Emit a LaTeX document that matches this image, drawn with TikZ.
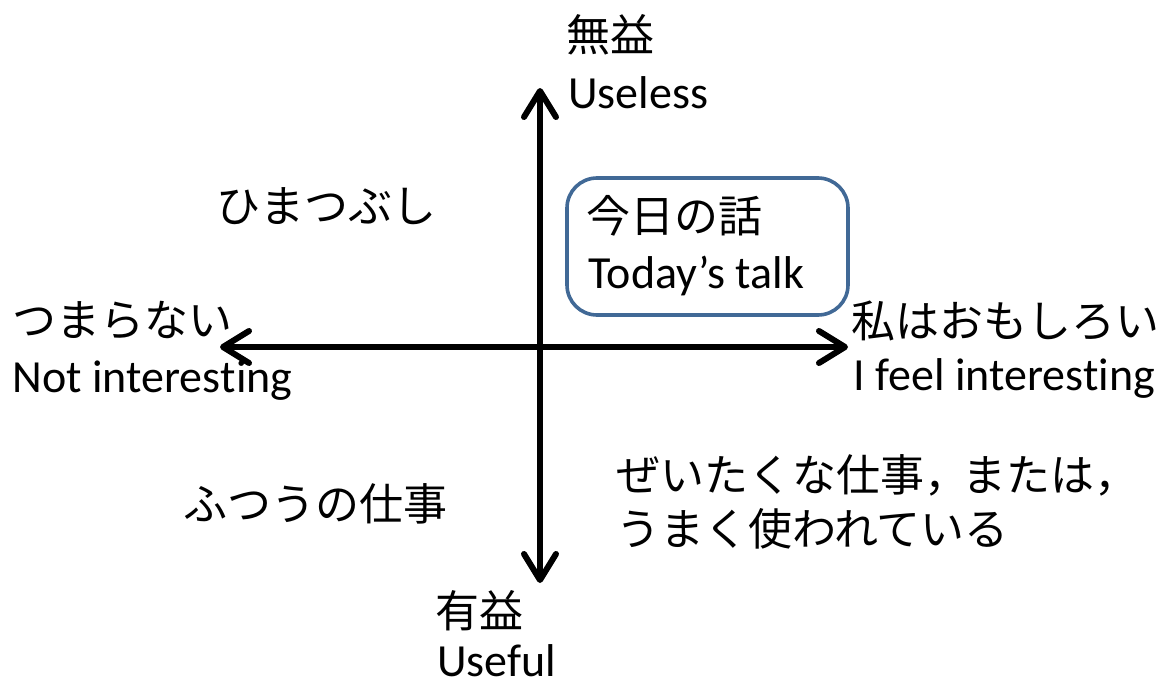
\documentclass[tikz,border=0pt]{standalone}
\usepackage{fontspec}
\setmainfont{Carlito}[Ligatures=NoCommon,Contextuals=NoAlternate]
\newfontfamily\jp{Noto Sans CJK JP}
\usetikzlibrary{arrows.meta}
\definecolor{boxblue}{RGB}{65,105,150}
\begin{document}
\begin{tikzpicture}[x=0.5pt,y=-0.5pt,
  lab/.style={anchor=base west,inner sep=0pt,font=\fontsize{23}{28}\selectfont},
  jlab/.style={lab,font=\fontsize{22}{27}\selectfont\jp},
  axis/.style={line width=3pt,{Straight Barb[length=13pt,width=16pt,line cap=round,round]}-{Straight Barb[length=13pt,width=16pt,line cap=round,round]}}]
\useasboundingbox (0,0) rectangle (1169,685);
\coordinate (top) at (540,88);
\coordinate (bot) at (540,583);
\coordinate (lft) at (220,347);
\coordinate (rgt) at (848,347);
\draw[axis] (bot) -- (top);
\draw[axis] (lft) -- (rgt);
\node[draw=boxblue,line width=1.8pt,rounded corners=15pt,minimum width=140.5pt,minimum height=68.5pt,inner sep=0pt] (talkbox) at (707.5,246.5) {};
\node[jlab] (useless-jp) at (566,52) {無益};
\node[lab] (useless) at (568,108) {Useless};
\node[jlab] (hima) at (216,222) {ひまつぶし};
\node[jlab] (talk-jp) at (586,232) {今日の話};
\node[lab] (talk) at (588,288) {Today’s talk};
\node[jlab] (boring-jp) at (12,336) {つまらない};
\node[lab] (boring) at (12,392) {Not interes\kern0pt ting};
\node[jlab] (interesting-jp) at (851,337) {私はおもしろい};
\node[lab] (interesting) at (853,390) {I feel interes\kern0pt ting};
\node[jlab] (ordinary) at (183,520) {ふつうの仕事};
\node[jlab] (luxury1) at (616,491) {ぜいたくな仕事，\kern-3pt または，};
\node[jlab] (luxury2) at (616,545) {うまく使われている};
\node[jlab] (useful-jp) at (435,627) {有益};
\node[lab] (useful) at (437,676) {Useful};
\end{tikzpicture}
\end{document}
